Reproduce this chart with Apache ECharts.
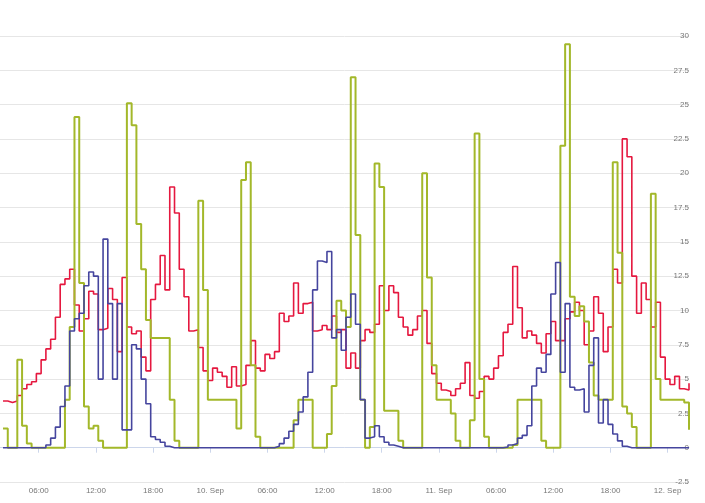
<!DOCTYPE html>
<html><head><meta charset="utf-8">
<script src="https://cdn.jsdelivr.net/npm/echarts@6/dist/echarts.min.js"></script>
<style>html,body{margin:0;padding:0;background:#fff}#c{width:705px;height:503px}</style>
</head><body><div id="c"></div>
<script>
// Half-hourly readings, 9 Sep 02:15 to 12 Sep 02:15 (value held until the next reading)
const startTime = new Date(2014, 8, 9, 2, 15).getTime();
const STEP = 30 * 60 * 1000;

const redValues = [
 3.4,3.3,3.4,3.8,4.3,4.6,4.8,5.4,6.4,7.2, 7.9,9.5,11.9,12.3,13.0,10.4,8.5,9.4,11.4,11.2,
 8.6,8.7,11.6,10.8,7.0,12.4,8.8,8.3,8.5,6.6, 5.6,10.8,11.9,14.0,11.5,19.0,17.1,13.0,11.0,8.5,
 8.6,7.3,5.6,4.9,5.8,5.5,5.2,4.4,5.9,4.5, 4.6,6.0,7.8,5.8,5.6,6.8,6.5,7.0,9.8,9.2,
 9.6,12.0,9.8,10.5,10.6,8.5,8.6,8.9,8.6,9.6, 8.4,8.6,5.8,6.9,5.8,7.8,8.6,8.4,9.0,11.8,
 10.0,11.8,11.3,9.5,8.8,8.2,8.6,9.6,10.0,7.6, 5.4,4.7,4.2,4.1,3.8,4.3,4.7,6.2,3.8,3.6,
 4.1,5.2,5.0,5.8,6.7,8.4,9.0,13.2,10.2,8.0, 8.5,8.2,7.6,6.9,8.3,9.2,7.8,7.8,9.4,9.9,
 10.6,10.0,7.5,8.5,11.0,9.8,7.0,8.8,13.0,12.0, 22.5,21.2,12.5,9.8,12.0,10.8,8.8,10.6,6.6,5.0,
 4.6,5.2,4.3,4.2,4.7
];
const blueValues = [
 0,0,0,0,0,0,0,0,0,0.2, 0.7,1.5,3.0,4.5,8.5,9.4,9.8,11.8,12.8,12.5,
 5.0,15.2,10.5,5.0,10.5,1.3,1.3,7.5,7.2,5.0, 3.2,0.8,0.6,0.4,0.1,0,0,0,0,0,
 0,0,0,0,0,0,0,0,0,0, 0,0,0,0,0,0,0,0.1,0.3,0.7,
 1.2,1.7,2.6,3.7,5.5,11.5,13.6,13.5,14.3,8.0, 8.6,7.1,9.5,11.2,9.0,3.5,0.7,0.8,1.6,0.8,
 0.4,0.2,0.1,0,0,0,0,0,0,0, 0,0,0,0,0,0,0,0,0,0,
 0,0,0,0,0,0.05,0.2,0.3,0.7,0.9, 1.6,4.5,5.8,5.5,6.8,11.2,13.5,5.5,10.5,4.4,
 4.2,4.3,2.6,6.0,8.0,1.8,3.5,1.7,1.0,0.5, 0.1,0,0,0,0,0,0,0,0,0,
 0,0,0,0,0
];
const greenValues = [
 1.4,0,0,6.4,1.6,0.3,0,0,0,0, 0,0,0,3.5,8.8,24.1,12.0,3.0,1.4,1.6,
 0.5,0,0,0,0,0,25.1,23.5,16.3,13.0, 9.3,8.0,8.0,8.0,8.0,3.5,0.5,0,0,0,
 0,18.0,11.5,3.5,3.5,3.5,3.5,3.5,3.5,1.4, 19.5,20.8,6.0,0.8,0,0,0,0,0,0,
 0,2.0,3.5,3.5,3.5,0,0,0,1.0,4.5, 10.7,10.0,8.8,27.0,15.5,3.5,0,1.5,20.7,19.0,
 2.7,2.7,2.7,0.5,0,0,0,0,20.0,12.4, 6.0,3.5,3.5,3.5,2.5,0.5,0,0,2.0,22.9,
 5.0,0.8,0,0,0,0,0,0.2,3.5,3.5, 3.5,3.5,3.5,0.5,0,0,0,22.0,29.4,11.0,
 9.6,10.3,9.2,6.2,3.8,3.5,3.5,3.5,20.8,14.2, 3.0,2.5,1.5,0,0,0,18.5,5.0,3.5,3.5,
 3.5,3.5,3.5,3.3,1.3
];
const yTicks = { min: -2.5, max: 30, interval: 2.5 };

const times = redValues.map((_, i) => startTime + i * STEP);
const pairs = vals => vals.map((v, i) => [times[i], v]);
const pad = n => (n < 10 ? '0' : '') + n;

const chart = echarts.init(document.getElementById('c'), null, { renderer: 'canvas' });
chart.setOption({
  animation: false,
  backgroundColor: '#ffffff',
  textStyle: { fontFamily: 'Liberation Sans, Arial, sans-serif' },
  grid: { left: 0, right: 16, top: 36, bottom: 21, containLabel: false },
  xAxis: {
    type: 'time',
    min: startTime - 19 * 60000,
    max: startTime + 144 * STEP,
    splitNumber: 11,
    minInterval: 6.5 * 3600000,
    maxInterval: 6.5 * 3600000,
    axisLine: { lineStyle: { color: '#ccd6eb', width: 1 } },
    axisTick: { show: true, length: 5, lineStyle: { color: '#ccd6eb' } },
    splitLine: { show: false },
    axisLabel: {
      color: '#777', fontSize: 8, margin: 5, hideOverlap: false,
      showMinLabel: false, showMaxLabel: false,
      formatter: function (v) {
        const d = new Date(v);
        if (d.getHours() === 0 && d.getMinutes() === 0) return d.getDate() + '. Sep';
        return pad(d.getHours()) + ':' + pad(d.getMinutes());
      }
    }
  },
  yAxis: {
    type: 'value',
    position: 'right',
    min: yTicks.min, max: yTicks.max, interval: yTicks.interval,
    axisLine: { show: false },
    axisTick: { show: false },
    splitLine: { lineStyle: { color: '#e6e6e6', width: 1 } },
    axisLabel: {
      inside: true, margin: 0, color: '#777', fontSize: 8,
      verticalAlign: 'middle', lineHeight: 10, padding: [0, 0, 7, 0]
    }
  },
  series: [
    { name: 'red', type: 'line', step: 'end', showSymbol: false, symbol: 'none',
      data: pairs(redValues), lineStyle: { color: '#e5183f', width: 1.6 }, z: 2 },
    { name: 'green', type: 'line', step: 'end', showSymbol: false, symbol: 'none',
      data: pairs(greenValues), lineStyle: { color: '#a3b82a', width: 2 }, z: 3 },
    { name: 'blue', type: 'line', step: 'end', showSymbol: false, symbol: 'none',
      data: pairs(blueValues), lineStyle: { color: '#45459e', width: 1.6 }, z: 4 }
  ]
});
</script>
</body></html>
